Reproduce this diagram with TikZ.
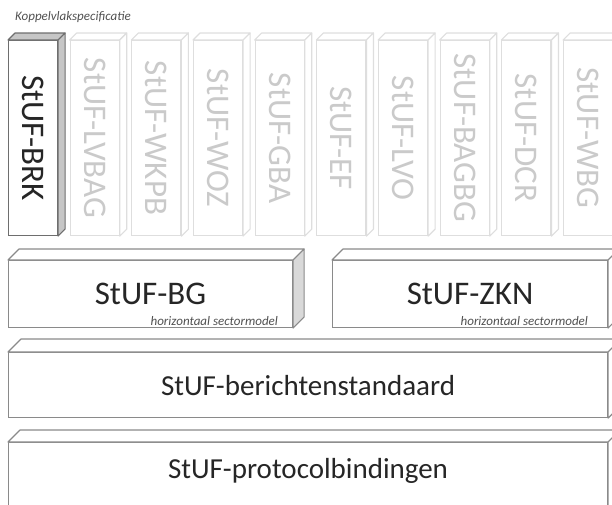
\documentclass[tikz,border=0pt]{standalone}
\usepackage{fontspec}
\setmainfont{Carlito}
\usepackage{tikz}
\usepackage{xcolor}
\usetikzlibrary{positioning}
\definecolor{edgegray}{HTML}{8A8A8A}
\definecolor{palegray}{HTML}{DEDEDE}
\definecolor{paletext}{HTML}{CACACA}
\definecolor{inkgray}{HTML}{262626}
\newcommand{\bigtext}{\fontsize{33}{36}\selectfont}
\newcommand{\midtext}{\fontsize{29}{33}\selectfont}
% top and right faces of a block: node, depth, top fill, side fill, line colour
\newcommand{\blockfaces}[5]{%
  \filldraw[draw=#5, fill=#3, line width=1.1pt, line join=round] (#1.north west) -- ++(#2,-#2) -- ([shift={(#2,-#2)}]#1.north east) -- (#1.north east) -- cycle;
  \filldraw[draw=#5, fill=#4, line width=1.1pt, line join=round] (#1.north east) -- ++(#2,-#2) -- ([shift={(#2,-#2)}]#1.south east) -- (#1.south east) -- cycle;}
\tikzstyle{column} = [draw=palegray, fill=white, line width=1.1pt, minimum width=49pt, minimum height=195pt, inner sep=0pt, anchor=north west, text=paletext, font=\bigtext]
\tikzstyle{activecolumn} = [column, draw=edgegray!80!black, text=inkgray]
\tikzstyle{layer} = [draw=edgegray, fill=white, line width=1.1pt, inner sep=0pt, anchor=north west, text=inkgray]
\tikzstyle{note} = [inner sep=0pt, text=inkgray!80, font=\fontsize{13}{14}\selectfont\itshape]

\begin{document}
\begin{tikzpicture}[x=1pt,y=-1pt]
  \useasboundingbox (0,0) rectangle (612,504);
  \node[note, anchor=base west] (title) at (15,20) {Koppelvlakspecificatie};
  % koppelvlakken
  \node[activecolumn] (BRK) at (8,40) {\rotatebox{-90}{StUF-BRK}};
  \blockfaces{BRK}{7}{gray!45}{gray!45}{edgegray!80!black}
  \foreach \name [count=\i] in {LVBAG,WKPB,WOZ,GBA,EF,LVO,BAGBG,DCR,WBG}{
    \node[column] (\name) at (8+61.67*\i,40) {\rotatebox{-90}{StUF-\name}};
    \blockfaces{\name}{7}{white}{white}{palegray}
  }
  % sectormodellen
  \node[layer, minimum width=284pt, minimum height=67pt, font=\bigtext] (BG) at (8,260) {StUF-BG};
  \blockfaces{BG}{11}{white}{gray!30}{edgegray}
  \node[note, anchor=base east] (BGnote) at ([xshift=-15pt,yshift=3pt]BG.south east) {horizontaal sectormodel};
  \node[layer, minimum width=275pt, minimum height=67pt, font=\bigtext] (ZKN) at (332,260) {StUF-ZKN};
  \blockfaces{ZKN}{11}{white}{white}{edgegray}
  \node[note, anchor=base east] (ZKNnote) at ([xshift=-20pt,yshift=3pt]ZKN.south east) {horizontaal sectormodel};
  % standaard en bindingen
  \node[layer, minimum width=599pt, minimum height=65pt, font=\midtext] (berichten) at (8,352) {StUF-berichtenstandaard};
  \blockfaces{berichten}{13}{white}{white}{edgegray}
  \node[layer, minimum width=599pt, minimum height=70pt, text depth=18pt, font=\midtext] (protocol) at (8,442) {StUF-protocolbindingen};
  \blockfaces{protocol}{12}{white}{white}{edgegray}
\end{tikzpicture}
\end{document}
